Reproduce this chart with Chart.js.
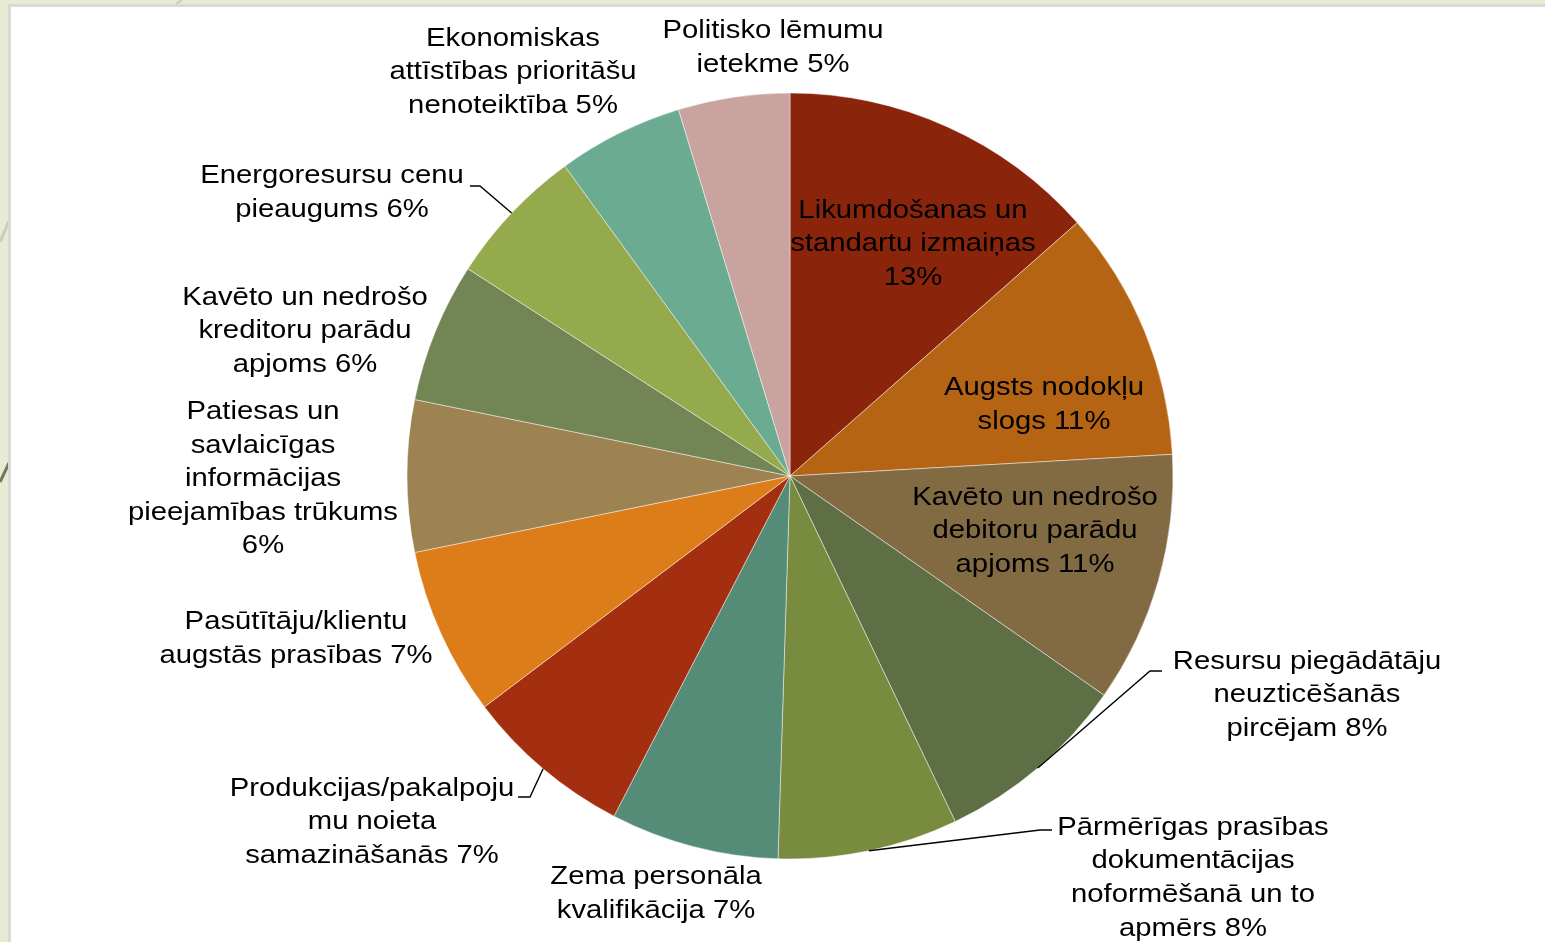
<!DOCTYPE html>
<html>
<head>
<meta charset="utf-8">
<script src="https://cdn.jsdelivr.net/npm/chart.js@4.4.1/dist/chart.umd.min.js"></script>
<style>
  html, body { margin: 0; padding: 0; }
  body { width: 1545px; height: 942px; background: #E6EBD3; position: relative; overflow: hidden; }
  #panel { position: absolute; left: 8px; top: 4px; width: 1545px; height: 950px; background: #fff; border-left: 3px solid #D9D9D9; border-top: 3px solid #D9D9D9; }
  #deco { position: absolute; left: 0; top: 0; }
  #wrap { position: absolute; left: 0; top: 0; width: 1545px; height: 942px; }
</style>
</head>
<body>
<svg id="deco" width="1545" height="942">
  <line x1="9" y1="221" x2="0" y2="242" stroke="#C9CDB5" stroke-width="3"/>
  <line x1="9" y1="463" x2="0" y2="482" stroke="#7A735A" stroke-width="3"/>
  <line x1="182" y1="0" x2="176" y2="4" stroke="#C9CDB5" stroke-width="2"/>
</svg>
<div id="panel"></div>
<div id="wrap"><canvas id="c" width="1545" height="942"></canvas></div>
<script>
// ---- data ----
const categories = [
  "Likumdošanas un standartu izmaiņas",
  "Augsts nodokļu slogs",
  "Kavēto un nedrošo debitoru parādu apjoms",
  "Resursu piegādātāju neuzticēšanās pircējam",
  "Pārmērīgas prasības dokumentācijas noformēšanā un to apmērs",
  "Zema personāla kvalifikācija",
  "Produkcijas/pakalpojumu noieta samazināšanās",
  "Pasūtītāju/klientu augstās prasības",
  "Patiesas un savlaicīgas informācijas pieejamības trūkums",
  "Kavēto un nedrošo kreditoru parādu apjoms",
  "Energoresursu cenu pieaugums",
  "Ekonomiskas attīstības prioritāšu nenoteiktība",
  "Politisko lēmumu ietekme"
];
const values = [13.5, 10.6, 10.6, 8.2, 7.6, 7.1, 7.1, 7.1, 6.4, 5.9, 5.9, 5.3, 4.7];
const labelLines = [
  ["Likumdošanas un", "standartu izmaiņas", "{p}"],
  ["Augsts nodokļu", "slogs {p}"],
  ["Kavēto un nedrošo", "debitoru parādu", "apjoms {p}"],
  ["Resursu piegādātāju", "neuzticēšanās", "pircējam {p}"],
  ["Pārmērīgas prasības", "dokumentācijas", "noformēšanā un to", "apmērs {p}"],
  ["Zema personāla", "kvalifikācija {p}"],
  ["Produkcijas/pakalpoju", "mu noieta", "samazināšanās {p}"],
  ["Pasūtītāju/klientu", "augstās prasības {p}"],
  ["Patiesas un", "savlaicīgas", "informācijas", "pieejamības trūkums", "{p}"],
  ["Kavēto un nedrošo", "kreditoru parādu", "apjoms {p}"],
  ["Energoresursu cenu", "pieaugums {p}"],
  ["Ekonomiskas", "attīstības prioritāšu", "nenoteiktība {p}"],
  ["Politisko lēmumu", "ietekme {p}"]
];

// ---- styling / layout (not data) ----
const colors = ["#8A250B", "#B56414", "#826B43", "#5E6E45", "#788B3E", "#558C77", "#A32F10",
                "#DD7D1A", "#9E8352", "#738555", "#95A94D", "#6AAB92", "#C9A49F"];
// label block centre, offset from pie centre (px)
const labelOffsets = [
  [123, -232], [254, -71], [245, 55], [517, 219], [403, 402], [-134, 418], [-418, 346],
  [-494, 163], [-527, 3], [-485, -145], [-458, -283], [-277, -404], [-17, -428]
];
// leader lines: [elbowDx, elbowDy, endDx, endDy] relative to centre; null = none
const leaders = [null, null, null, [360, 195, 372, 195], [250, 354, 262, 354], null,
  [-260, 321, -272, 321], null, null, null, [-310, -290, -320, -290], null, null];

const FONT = '26px "Liberation Sans", Arial, sans-serif';
const LINE_H = 33.6;
const TEXT_STRETCH = 1.125;

const total = values.reduce((a, b) => a + b, 0);

const labelPlugin = {
  id: 'pieLabels',
  afterDatasetsDraw(chart) {
    const ctx = chart.ctx;
    const meta = chart.getDatasetMeta(0);
    ctx.save();
    meta.data.forEach((arc, i) => {
      const {x, y, startAngle, endAngle, outerRadius} = arc.getProps(['x', 'y', 'startAngle', 'endAngle', 'outerRadius'], true);
      const pct = Math.round(values[i] / total * 100) + '%';
      const ld = leaders[i];
      if (ld) {
        const mid = (startAngle + endAngle) / 2;
        const sx = x + Math.cos(mid) * outerRadius;
        const sy = y + Math.sin(mid) * outerRadius;
        ctx.beginPath();
        ctx.moveTo(sx, sy);
        ctx.lineTo(x + ld[0], y + ld[1]);
        ctx.lineTo(x + ld[2], y + ld[3]);
        ctx.strokeStyle = '#000';
        ctx.lineWidth = 1.4;
        ctx.stroke();
      }
      const lines = labelLines[i].map(s => s.replace('{p}', pct));
      const cx = x + labelOffsets[i][0];
      const cy = y + labelOffsets[i][1];
      const top = cy - (lines.length - 1) * LINE_H / 2;
      lines.forEach((ln, k) => {
        ctx.save();
        ctx.translate(cx, top + k * LINE_H);
        ctx.scale(TEXT_STRETCH, 1);
        ctx.font = FONT;
        ctx.fillStyle = '#000';
        ctx.textAlign = 'center';
        ctx.textBaseline = 'middle';
        ctx.fillText(ln, 0, 0);
        ctx.restore();
      });
    });
    ctx.restore();
  }
};

new Chart(document.getElementById('c'), {
  type: 'pie',
  data: {
    labels: categories,
    datasets: [{
      data: values,
      backgroundColor: colors,
      borderColor: 'rgba(255,255,255,0.45)',
      borderWidth: 1
    }]
  },
  options: {
    responsive: false,
    animation: false,
    radius: 383,
    layout: { padding: { left: 300, right: 265, top: 93, bottom: 83 } },
    plugins: { legend: { display: false }, tooltip: { enabled: false } }
  },
  plugins: [labelPlugin]
});
</script>
</body>
</html>
